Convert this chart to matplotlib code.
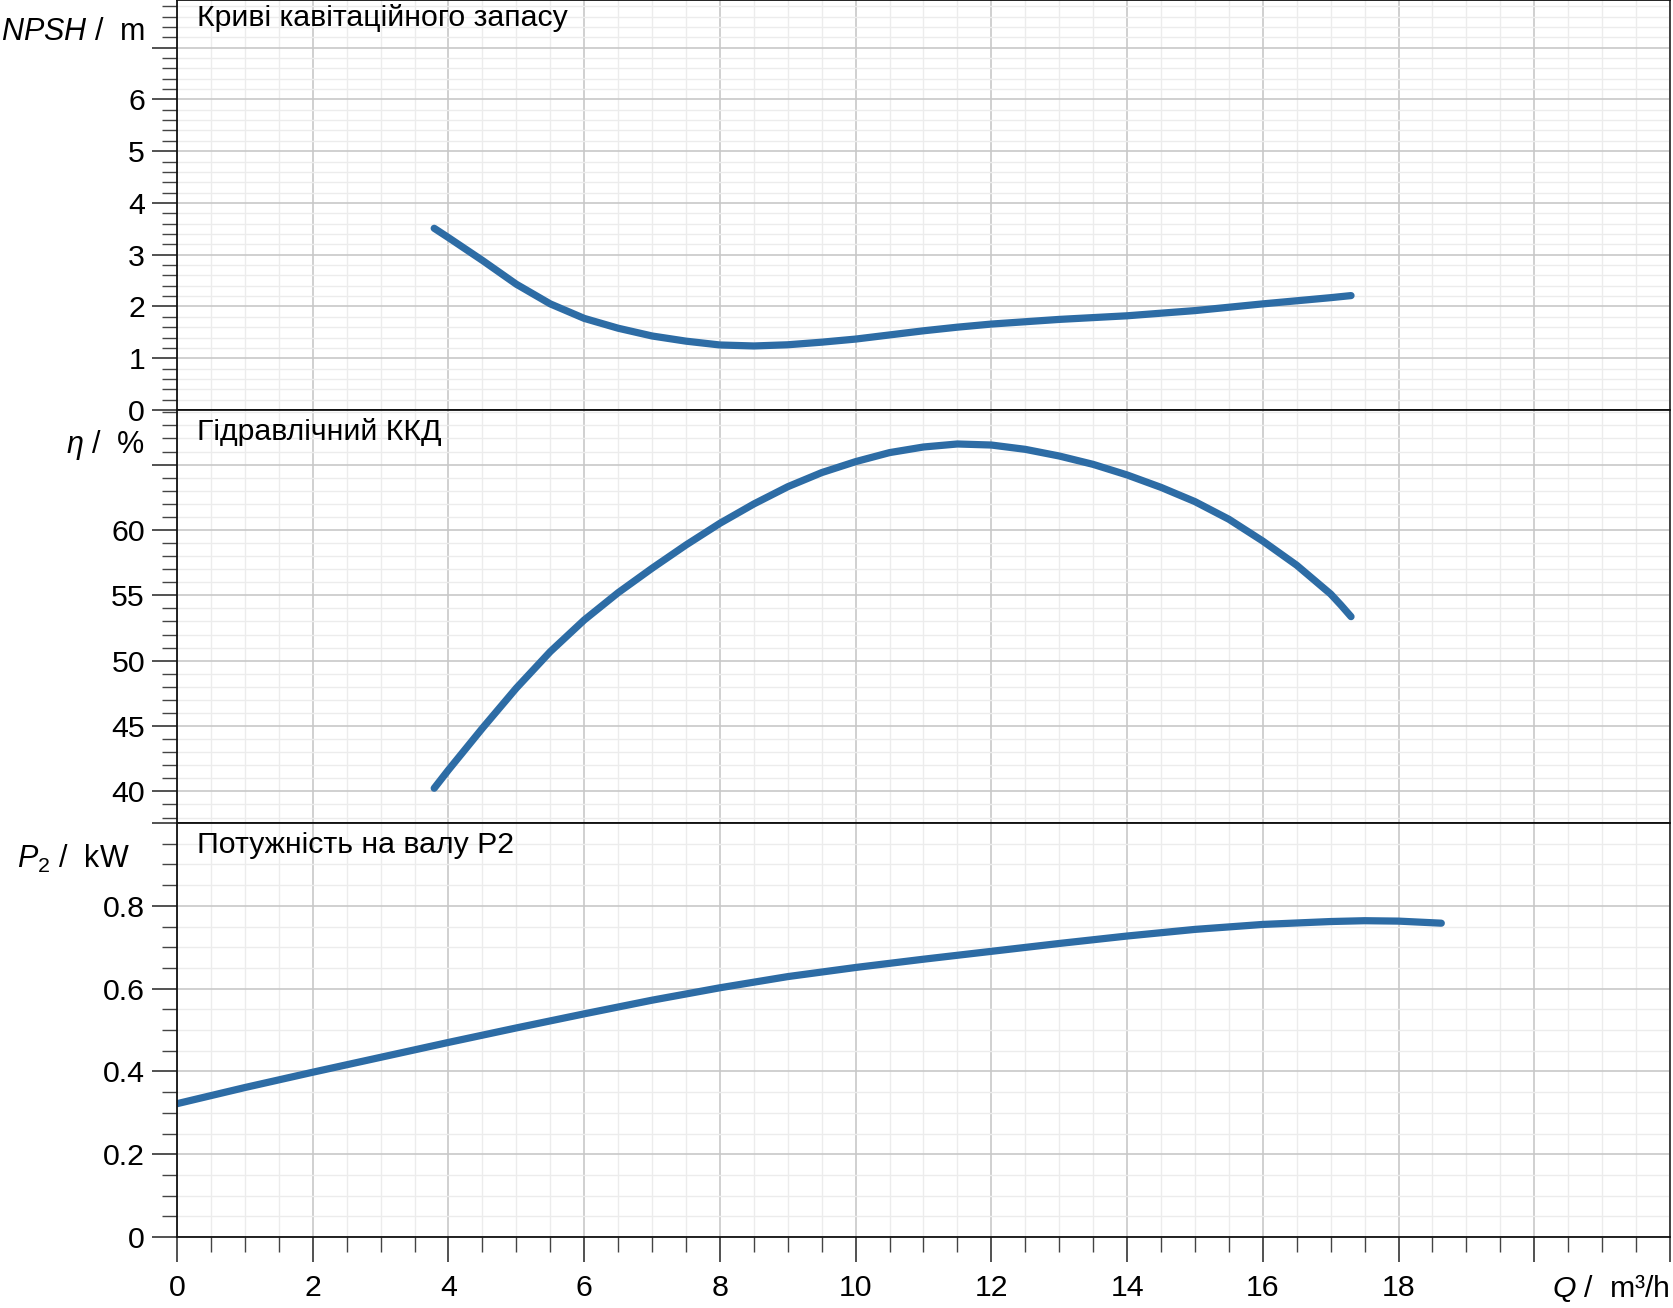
import matplotlib
matplotlib.use("Agg")
import matplotlib.pyplot as plt
from matplotlib.ticker import FixedLocator, MultipleLocator

plt.rcParams['font.family'] = ['Liberation Sans', 'DejaVu Sans']
plt.rcParams['mathtext.fontset'] = 'custom'
plt.rcParams['mathtext.rm'] = 'Liberation Sans'
plt.rcParams['mathtext.it'] = 'Liberation Sans:italic'

# Дані кривих (Q у m³/h)
q_npsh = [3.79, 4.0, 4.5, 5.0, 5.5, 6.0, 6.5, 7.0, 7.5, 8.0, 8.5, 9.0, 9.5, 10.0,
          10.5, 11.0, 11.5, 12.0, 13.0, 14.0, 15.0, 16.0, 17.0, 17.3]
npsh = [3.51, 3.33, 2.89, 2.43, 2.05, 1.77, 1.58, 1.43, 1.33, 1.256, 1.237, 1.26, 1.31, 1.37,
        1.45, 1.53, 1.60, 1.66, 1.75, 1.82, 1.92, 2.05, 2.17, 2.21]

q_eta = [3.79, 4.0, 4.5, 5.0, 5.5, 6.0, 6.5, 7.0, 7.5, 8.0, 8.5, 9.0, 9.5, 10.0, 10.5,
         11.0, 11.5, 12.0, 12.5, 13.0, 13.5, 14.0, 14.5, 15.0, 15.5, 16.0, 16.5, 16.75,
         17.0, 17.15, 17.3]
eta = [40.24, 41.64, 44.83, 47.9, 50.69, 53.11, 55.2, 57.07, 58.85, 60.51, 61.99, 63.31, 64.39,
       65.23, 65.92, 66.35, 66.58, 66.50, 66.17, 65.66, 65.02, 64.21, 63.26, 62.17, 60.82,
       59.15, 57.30, 56.20, 55.10, 54.26, 53.37]

q_p2 = [0, 1, 2, 3, 4, 5, 6, 7, 8, 9, 10, 11, 12, 13, 14, 15, 16, 17, 17.5, 18, 18.63]
p2 = [0.322, 0.361, 0.398, 0.434, 0.470, 0.505, 0.539, 0.572, 0.602, 0.629, 0.651, 0.671,
      0.690, 0.709, 0.727, 0.743, 0.755, 0.762, 0.764, 0.763, 0.758]

x_ticks = [0, 2, 4, 6, 8, 10, 12, 14, 16, 18, 20, 22]
x_labels = ['0', '2', '4', '6', '8', '10', '12', '14', '16', '18', '', '']
npsh_ticks = [0, 1, 2, 3, 4, 5, 6, 7]
npsh_labels = ['0', '1', '2', '3', '4', '5', '6', '']
eta_ticks = [40, 45, 50, 55, 60, 65]
eta_labels = ['40', '45', '50', '55', '60', '']
p2_ticks = [0, 0.2, 0.4, 0.6, 0.8, 1.0]
p2_labels = ['0', '0.2', '0.4', '0.6', '0.8', '']

W, H = 1674, 1308
line_color = '#2d6ca5'
fs = 21.8

fig = plt.figure(figsize=(W / 100, H / 100), dpi=100)
left = 177 / W
width = (1670 - 177) / W
ax1 = fig.add_axes([left, 1 - 410 / H, width, 410 / H])
ax2 = fig.add_axes([left, 1 - 823 / H, width, 413 / H], sharex=ax1)
ax3 = fig.add_axes([left, 1 - 1237 / H, width, 414 / H], sharex=ax1)

ax1.plot(q_npsh, npsh, color=line_color, lw=5.2, solid_capstyle='round', solid_joinstyle='round')
ax2.plot(q_eta, eta, color=line_color, lw=5.2, solid_capstyle='round', solid_joinstyle='round')
ax3.plot(q_p2, p2, color=line_color, lw=5.2, solid_capstyle='round', solid_joinstyle='round')

ax1.set_ylim(0, 7.92)
ax2.set_ylim(37.58, 69.18)
ax3.set_ylim(0, 1.0)
ax3.set_xlim(0, 22)

ax1.yaxis.set_major_locator(FixedLocator(npsh_ticks))
ax1.set_yticklabels(npsh_labels)
ax1.yaxis.set_minor_locator(MultipleLocator(0.2))
ax2.yaxis.set_major_locator(FixedLocator(eta_ticks))
ax2.set_yticklabels(eta_labels)
ax2.yaxis.set_minor_locator(MultipleLocator(1))
ax3.yaxis.set_major_locator(FixedLocator(p2_ticks))
ax3.set_yticklabels(p2_labels)
ax3.yaxis.set_minor_locator(MultipleLocator(0.05))

ax3.xaxis.set_major_locator(FixedLocator(x_ticks))
ax3.set_xticklabels(x_labels)
ax3.xaxis.set_minor_locator(MultipleLocator(0.5))

for ax in (ax1, ax2, ax3):
    ax.set_axisbelow(True)
    ax.grid(which='major', color='#c8c8c8', lw=1.2)
    ax.grid(which='minor', color='#ececec', lw=1.0)
    for s in ax.spines.values():
        s.set_color('#111111')
        s.set_linewidth(1.3)
    ax.spines['right'].set_color('#333333')
    ax.tick_params(axis='y', which='major', direction='out', length=18, width=1.2,
                   color='#333333', labelsize=fs, pad=5)
    ax.tick_params(axis='y', which='minor', direction='out', length=11, width=1.0,
                   color='#444444')
    ax.tick_params(axis='x', which='major', direction='out', length=18, width=1.2,
                   color='#333333', labelsize=fs, pad=9)
    ax.tick_params(axis='x', which='minor', direction='out', length=11, width=1.0,
                   color='#444444')

for ax in (ax1, ax2):
    ax.tick_params(axis='x', which='both', bottom=False, labelbottom=False)

# Заголовки панелей
fig.text(197 / W, 1 - 26 / H, 'Криві кавітаційного запасу', fontsize=fs, va='baseline')
fig.text(197 / W, 1 - 440 / H, 'Гідравлічний ККД', fontsize=fs, va='baseline')
fig.text(197 / W, 1 - 853 / H, 'Потужність на валу P2', fontsize=fs, va='baseline')

# Підписи осей
fig.text(145 / W, 1 - 40 / H, r'$\mathit{NPSH}$ /  m', fontsize=22, ha='right', va='baseline')
fig.text(145 / W, 1 - 453 / H, r'$\mathit{η}$ /  %', fontsize=22, ha='right', va='baseline')
fig.text(130 / W, 1 - 868 / H, r'$\mathit{P}_{2}$ /  kW', fontsize=22, ha='right', va='baseline')
fig.text(1670 / W, 1 - 1297 / H, r'$\mathit{Q}$ /  m³/h', fontsize=fs, ha='right', va='baseline')

plt.savefig('out.png', dpi=100)
